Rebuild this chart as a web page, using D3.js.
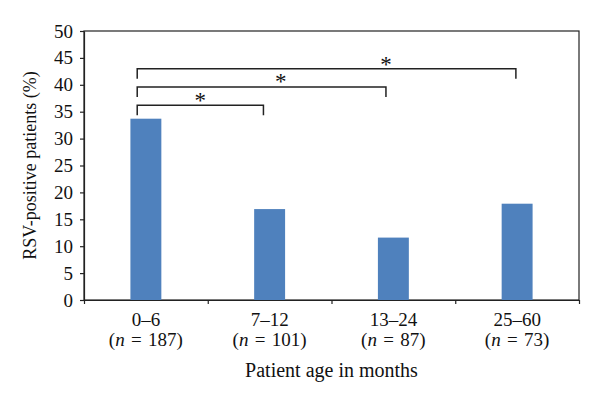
<!DOCTYPE html>
<html lang="en">
<head>
  <meta charset="UTF-8" />
  <title>RSV-positive patients by age</title>
  <script src="https://cdn.jsdelivr.net/npm/d3@7"></script>
  <style>
    body {
      margin: 0;
      background-color: white;
    }

    svg text {
      font-family: "Liberation Serif", "DejaVu Serif", serif;
      fill: #111;
    }

    .axis path,
    .axis line {
      stroke: #222;
      stroke-width: 1.2px;
    }

    .axis text {
      font-size: 19px;
    }

    .bracket {
      fill: none;
      stroke: #222;
      stroke-width: 1.5px;
    }
  </style>
</head>
<body>
  <div id="chart"></div>

  <script>
    const categories = ["0–6", "7–12", "13–24", "25–60"];
    const sampleSizes = [187, 101, 87, 73];
    const values = [33.7, 16.9, 11.6, 17.9];
    const yTicks = [0, 5, 10, 15, 20, 25, 30, 35, 40, 45, 50];

    // significance brackets, positions in category units (0..4)
    const bracketFrom = [0.43, 0.43, 0.43];
    const bracketTo = [1.45, 2.44, 3.49];
    const bracketLevel = [36.2, 39.6, 43.0];
    const starPos = [0.94, 1.59, 2.44];
    const starLevel = [37.8, 41.2, 44.5];

    const width = 600;
    const height = 402;
    const margin = { top: 31, right: 21, bottom: 102, left: 84 };

    const svg = d3.select("#chart")
      .append("svg")
      .attr("width", width)
      .attr("height", height);

    const x = d3.scaleBand()
      .domain(categories)
      .range([margin.left, width - margin.right])
      .padding(0);

    const xPos = d3.scaleLinear()
      .domain([0, categories.length])
      .range([margin.left, width - margin.right]);

    const y = d3.scaleLinear()
      .domain([0, 50])
      .range([height - margin.bottom, margin.top]);

    // plot frame
    svg.append("rect")
      .attr("x", margin.left)
      .attr("y", margin.top)
      .attr("width", width - margin.left - margin.right)
      .attr("height", height - margin.top - margin.bottom)
      .attr("fill", "none")
      .attr("stroke", "#222")
      .attr("stroke-width", 1.2);

    const barWidth = x.bandwidth() * 0.25;

    svg.selectAll(".bar")
      .data(values)
      .enter()
      .append("rect")
      .attr("class", "bar")
      .attr("x", (d, i) => x(categories[i]) + (x.bandwidth() - barWidth) / 2)
      .attr("y", d => y(d))
      .attr("width", barWidth)
      .attr("height", d => y(0) - y(d))
      .attr("fill", "#4f81bd");

    svg.append("g")
      .attr("class", "axis")
      .attr("transform", `translate(${margin.left}, 0)`)
      .call(d3.axisLeft(y).tickValues(yTicks).tickSize(4).tickSizeOuter(0).tickPadding(7));

    svg.append("g")
      .attr("class", "axis")
      .attr("transform", `translate(0, ${height - margin.bottom})`)
      .call(d3.axisBottom(xPos).tickValues(d3.range(categories.length + 1))
        .tickFormat("").tickSize(4).tickSizeOuter(0));

    // category labels
    const labels = svg.append("g")
      .attr("text-anchor", "middle")
      .style("font-size", "19px");

    labels.selectAll(".cat")
      .data(categories)
      .enter()
      .append("text")
      .attr("x", d => x(d) + x.bandwidth() / 2)
      .attr("y", 326)
      .text(d => d);

    const nLabel = labels.selectAll(".n")
      .data(sampleSizes)
      .enter()
      .append("text")
      .attr("x", (d, i) => x(categories[i]) + x.bandwidth() / 2)
      .attr("y", 346);
    nLabel.append("tspan").text("(");
    nLabel.append("tspan").style("font-style", "italic").text("n");
    nLabel.append("tspan").text(d => "\u2004=\u2004" + d + ")");

    svg.append("text")
      .attr("x", (margin.left + width - margin.right) / 2)
      .attr("y", 377)
      .attr("text-anchor", "middle")
      .style("font-size", "20px")
      .text("Patient age in months");

    svg.append("text")
      .attr("transform", `translate(36, ${(margin.top + height - margin.bottom) / 2}) rotate(-90)`)
      .attr("text-anchor", "middle")
      .style("font-size", "18px")
      .text("RSV-positive patients (%)");

    // brackets
    const drop = 10;
    svg.selectAll(".bracket")
      .data(bracketLevel)
      .enter()
      .append("path")
      .attr("class", "bracket")
      .attr("d", (d, i) => {
        const x0 = xPos(bracketFrom[i]);
        const x1 = xPos(bracketTo[i]);
        const yy = y(d);
        return `M${x0},${yy + drop}V${yy}H${x1}V${yy + drop}`;
      });

    svg.selectAll(".star")
      .data(starLevel)
      .enter()
      .append("text")
      .attr("class", "star")
      .attr("x", (d, i) => xPos(starPos[i]))
      .attr("y", d => y(d) + 11)
      .attr("text-anchor", "middle")
      .style("font-size", "23px")
      .text("*");
  </script>
</body>
</html>
